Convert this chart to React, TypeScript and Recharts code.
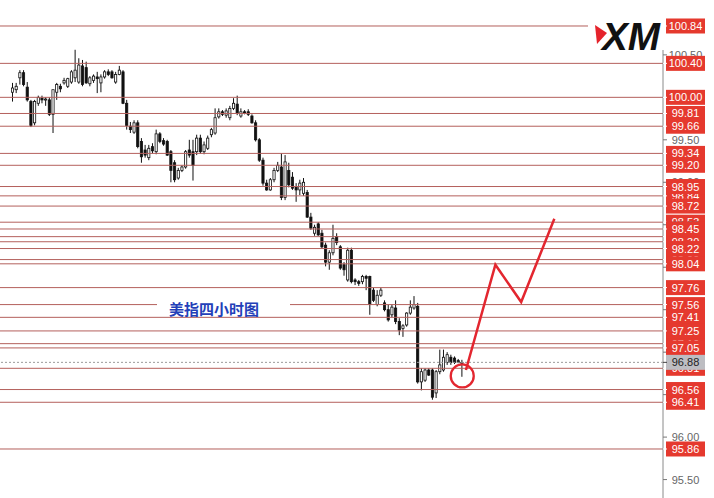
import { Bar, ComposedChart, Line, ReferenceDot, ReferenceLine, XAxis, YAxis } from "recharts";

const W = 714;
const H = 498;
const PLOT_RIGHT = 663; // x of the price axis
const SLOTS = 177; // candle slots across the plot (candles + empty future space)

// 4h candles: [open, high, low, close]
const CANDLES: [number, number, number, number][] = [
  [100.06, 100.17, 99.95, 100.11], [100.09, 100.17, 100.05, 100.13], [100.23, 100.32, 100.15, 100.29],
  [100.29, 100.32, 100.13, 100.15], [100.12, 100.18, 99.95, 99.97], [99.95, 99.97, 99.65, 99.67],
  [99.7, 99.97, 99.67, 99.95], [99.93, 100.02, 99.9, 100.0], [99.99, 100.02, 99.93, 99.97],
  [99.97, 100.0, 99.9, 99.98], [99.97, 100.0, 99.78, 99.8], [99.8, 100.0, 99.58, 100.09],
  [100.06, 100.17, 99.97, 100.15], [100.13, 100.16, 100.06, 100.1], [100.17, 100.23, 100.15, 100.2],
  [100.13, 100.23, 100.11, 100.22], [100.18, 100.32, 100.16, 100.3], [100.23, 100.56, 100.18, 100.32],
  [100.18, 100.46, 100.16, 100.38], [100.37, 100.44, 100.13, 100.15], [100.35, 100.42, 100.16, 100.17],
  [100.16, 100.25, 100.13, 100.23], [100.2, 100.27, 100.17, 100.25], [100.24, 100.3, 100.05, 100.22],
  [100.17, 100.27, 100.06, 100.24], [100.24, 100.32, 100.22, 100.3], [100.3, 100.33, 100.25, 100.27],
  [100.3, 100.32, 100.22, 100.23], [100.18, 100.3, 100.16, 100.27], [100.27, 100.37, 100.26, 100.32],
  [100.3, 100.32, 99.92, 99.93], [99.93, 99.97, 99.62, 99.67], [99.66, 99.71, 99.58, 99.62],
  [99.59, 99.73, 99.57, 99.7], [99.7, 99.73, 99.4, 99.42], [99.48, 99.52, 99.23, 99.3],
  [99.38, 99.44, 99.29, 99.32], [99.29, 99.44, 99.26, 99.4], [99.42, 99.46, 99.34, 99.37],
  [99.36, 99.62, 99.33, 99.57], [99.57, 99.59, 99.46, 99.48], [99.49, 99.52, 99.43, 99.45],
  [99.48, 99.5, 99.31, 99.32], [99.36, 99.38, 99.0, 99.14], [99.23, 99.26, 99.0, 99.03],
  [99.05, 99.17, 99.03, 99.14], [99.14, 99.2, 99.12, 99.18], [99.18, 99.38, 99.16, 99.36],
  [99.38, 99.5, 99.29, 99.32], [99.36, 99.5, 99.02, 99.2], [99.36, 99.56, 99.32, 99.52],
  [99.52, 99.56, 99.34, 99.36], [99.36, 99.48, 99.33, 99.44], [99.4, 99.55, 99.38, 99.52],
  [99.56, 99.64, 99.53, 99.62], [99.58, 99.87, 99.56, 99.76], [99.77, 99.87, 99.75, 99.83],
  [99.83, 99.85, 99.78, 99.8], [99.79, 99.87, 99.76, 99.84], [99.76, 99.9, 99.73, 99.87],
  [99.87, 99.99, 99.85, 99.93], [99.92, 100.02, 99.79, 99.82], [99.78, 99.87, 99.76, 99.83],
  [99.83, 99.85, 99.8, 99.82], [99.83, 99.86, 99.78, 99.8], [99.78, 99.8, 99.69, 99.7],
  [99.7, 99.73, 99.48, 99.5], [99.5, 99.52, 99.24, 99.26], [99.26, 99.29, 98.96, 98.99],
  [98.99, 99.03, 98.9, 98.91], [98.91, 99.05, 98.9, 99.03], [99.03, 99.17, 99.0, 99.14],
  [99.14, 99.24, 99.12, 99.2], [99.18, 99.34, 98.79, 98.82], [98.82, 99.32, 98.79, 99.24],
  [99.14, 99.23, 98.94, 98.97], [99.06, 99.12, 98.91, 98.93], [98.94, 98.99, 98.77, 98.91],
  [98.91, 99.03, 98.85, 98.99], [98.87, 99.05, 98.84, 99.0], [98.88, 98.91, 98.58, 98.59],
  [98.59, 98.64, 98.44, 98.46], [98.4, 98.5, 98.37, 98.47], [98.51, 98.53, 98.37, 98.38],
  [98.4, 98.44, 98.22, 98.24], [98.26, 98.29, 98.01, 98.06], [98.06, 98.2, 97.97, 98.17],
  [98.17, 98.5, 98.14, 98.34], [98.36, 98.4, 98.26, 98.29], [98.24, 98.26, 97.97, 97.99],
  [98.03, 98.06, 97.9, 97.97], [97.85, 98.23, 97.83, 98.2], [98.2, 98.23, 97.81, 97.83],
  [97.85, 97.87, 97.79, 97.83], [97.83, 97.85, 97.78, 97.81], [97.83, 97.91, 97.8, 97.89],
  [97.89, 97.91, 97.73, 97.87], [97.89, 97.9, 97.44, 97.56], [97.73, 97.76, 97.59, 97.61],
  [97.56, 97.73, 97.54, 97.67], [97.67, 97.76, 97.65, 97.73], [97.58, 97.61, 97.48, 97.5],
  [97.5, 97.56, 97.36, 97.38], [97.44, 97.56, 97.41, 97.53], [97.52, 97.61, 97.33, 97.36],
  [97.36, 97.4, 97.2, 97.26], [97.28, 97.33, 97.18, 97.31], [97.32, 97.47, 97.3, 97.46],
  [97.46, 97.61, 97.44, 97.53], [97.52, 97.66, 97.5, 97.56], [97.54, 97.58, 96.63, 96.65],
  [96.65, 96.81, 96.55, 96.77], [96.67, 96.81, 96.65, 96.79], [96.79, 96.81, 96.72, 96.73],
  [96.79, 96.81, 96.44, 96.47], [96.52, 96.79, 96.46, 96.77], [96.77, 97.03, 96.74, 96.85],
  [96.79, 97.03, 96.77, 96.94], [96.88, 97.0, 96.85, 96.97], [96.94, 96.97, 96.85, 96.88],
  [96.93, 96.95, 96.86, 96.88], [96.9, 96.92, 96.87, 96.88], [96.88, 96.91, 96.71, 96.87],
];

// support / resistance levels with a visible label
const LEVELS_SHOWN = [
  100.84, 100.4, 100.0, 99.81, 99.66, 99.34, 99.2, 98.95, 98.72, 98.45, 98.22, 98.04,
  97.76, 97.56, 97.41, 97.25, 97.05, 96.56, 96.41, 95.86,
];
// levels whose labels are mostly covered by the neighbours
const LEVELS_HIDDEN = [98.84, 98.53, 98.36, 98.3, 98.09, 97.1, 96.81];
const AXIS_TICKS = [95.5, 96.0, 96.5, 97.0, 97.5, 98.0, 98.5, 99.0, 99.5, 100.5];
const LAST_PRICE = 96.88;

// hand-drawn forecast zigzag (slot index, price) and the marker circle
const ZIG_IDX = [123, 131, 138, 147];
const ZIG_PRICE = [96.79, 98.03, 97.59, 98.57];
const MARK_IDX = 122;
const MARK_PRICE = 96.72;

const TITLE = "美指四小时图";

const LINE_C = "#b4605c";
const RED = "#e5392e";
const ZIG_C = "#e3262f";

const rows = Array.from({ length: SLOTS }, (_, i) => {
  const c = CANDLES[i];
  const z = ZIG_IDX.indexOf(i);
  return {
    i,
    range: c ? [c[2], c[1]] : null,
    o: c ? c[0] : null,
    h: c ? c[1] : null,
    l: c ? c[2] : null,
    c: c ? c[3] : null,
    zig: z >= 0 ? ZIG_PRICE[z] : null,
  };
});

function Candle(props: any) {
  const { x, y, width, height, payload } = props;
  if (!payload || payload.c == null) return null;
  const top = Math.min(y, y + height);
  const h = Math.abs(height);
  const span = payload.h - payload.l;
  const k = span > 0 ? h / span : 0;
  const yOf = (p: number) => top + (payload.h - p) * k;
  const cx = x + width / 2;
  const up = payload.c >= payload.o;
  const bTop = yOf(Math.max(payload.o, payload.c));
  const bBot = yOf(Math.min(payload.o, payload.c));
  return (
    <g>
      <line x1={cx} x2={cx} y1={top} y2={top + h} stroke="#111" strokeWidth={1} />
      <rect
        x={x + 0.4}
        y={bTop}
        width={width - 0.8}
        height={Math.max(bBot - bTop, 1)}
        fill={up ? "#fff" : "#111"}
        stroke="#111"
        strokeWidth={0.8}
      />
    </g>
  );
}

function PriceTick(props: any) {
  const { y, payload } = props;
  const v = payload.value as number;
  const x0 = PLOT_RIGHT + 3;
  const font = { fontFamily: "'Liberation Sans', Arial, sans-serif", fontSize: 11 };
  if (v === LAST_PRICE) {
    return (
      <g>
        <rect x={x0} y={y - 7.5} width={39} height={15} fill="#bdbdc2" />
        <line x1={PLOT_RIGHT} x2={PLOT_RIGHT + 4} y1={y} y2={y} stroke="#444" />
        <text x={x0 + 19.5} y={y + 4} textAnchor="middle" fill="#222" {...font}>
          {v.toFixed(2)}
        </text>
      </g>
    );
  }
  if (LEVELS_SHOWN.includes(v) || LEVELS_HIDDEN.includes(v)) {
    return (
      <g>
        <rect x={x0} y={y - 7.5} width={39} height={15} fill={RED} />
        <line x1={PLOT_RIGHT} x2={PLOT_RIGHT + 4} y1={y} y2={y} stroke="#fff" />
        <text x={x0 + 19.5} y={y + 4} textAnchor="middle" fill="#fff" {...font}>
          {v.toFixed(2)}
        </text>
      </g>
    );
  }
  return (
    <g>
      <line x1={PLOT_RIGHT} x2={PLOT_RIGHT + 4} y1={y} y2={y} stroke="#777" />
      <text x={x0 + 19.5} y={y + 4} textAnchor="middle" fill="#666" {...font}>
        {v.toFixed(2)}
      </text>
    </g>
  );
}

export default function App() {
  const ticks = [...LEVELS_HIDDEN, ...AXIS_TICKS, ...LEVELS_SHOWN, LAST_PRICE];
  return (
    <div style={{ position: "absolute", left: 0, top: 0, width: W, height: H, background: "#fff" }}>
      <ComposedChart width={W} height={H} data={rows} margin={{ top: 0, right: 0, bottom: 0, left: 0 }}>
        <XAxis dataKey="i" hide padding={{ left: 11, right: 0 }} />
        <YAxis
          orientation="right"
          width={W - PLOT_RIGHT}
          domain={[95.283, 101.146]}
          allowDataOverflow
          ticks={ticks}
          interval={0}
          tickLine={false}
          axisLine={{ stroke: "#8a8a8a" }}
          tick={<PriceTick />}
        />
        {[...LEVELS_HIDDEN, ...LEVELS_SHOWN].map((lv) => (
          <ReferenceLine key={lv} y={lv} stroke={LINE_C} strokeWidth={1} />
        ))}
        <ReferenceLine y={LAST_PRICE} stroke="#9a9a9a" strokeDasharray="2 2" />
        <Bar dataKey="range" barSize={3} shape={<Candle />} isAnimationActive={false} />
        <Line
          dataKey="zig"
          connectNulls
          stroke={ZIG_C}
          strokeWidth={2.5}
          dot={false}
          activeDot={false}
          isAnimationActive={false}
        />
        <ReferenceDot x={MARK_IDX} y={MARK_PRICE} r={11.5} fill="none" stroke={ZIG_C} strokeWidth={2.3} />
      </ComposedChart>
      <svg
        width={W}
        height={H}
        style={{ position: "absolute", left: 0, top: 0, pointerEvents: "none" }}
      >
        {/* XM logo patch */}
        <rect x={588} y={0} width={PLOT_RIGHT + 1 - 588} height={50} fill="#fff" />
        <polygon points="595,25 607,33 597,44" fill="#e5232b" />
        <text
          x={602}
          y={50}
          textLength={58}
          lengthAdjust="spacingAndGlyphs"
          fontFamily="'Liberation Sans', Arial, sans-serif"
          fontWeight="bold"
          fontStyle="italic"
          fontSize={38}
          fill="#111"
        >
          XM
        </text>
        {/* title */}
        <rect x={157} y={299} width={133} height={16} fill="#fff" />
        <text
          x={214}
          y={315}
          textAnchor="middle"
          fontFamily="'Noto Sans CJK SC', sans-serif"
          fontWeight="bold"
          fontSize={15}
          fill="#2340b8"
        >
          {TITLE}
        </text>
      </svg>
    </div>
  );
}
